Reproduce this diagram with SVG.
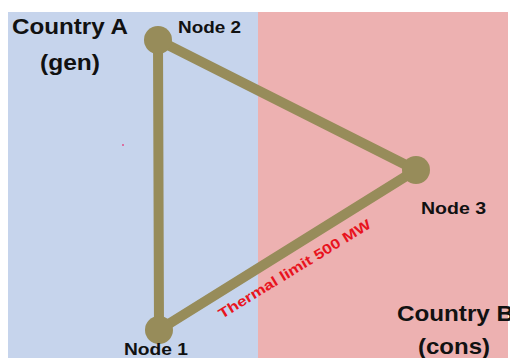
<svg xmlns="http://www.w3.org/2000/svg" width="510" height="358" viewBox="0 0 510 358">
<style>
.lbl{font-family:"Liberation Sans",Arial,sans-serif;font-weight:bold;fill:#111}
.big{font-size:22px}
.node{font-size:16px}
.edge{stroke:#978c5a;stroke-width:10;stroke-linecap:round;fill:none}
.dot{fill:#978c5a}
.lim{font-family:"Liberation Sans",Arial,sans-serif;font-weight:bold;font-size:14px;fill:#e8141e}
</style>
<rect x="0" y="0" width="510" height="358" fill="#ffffff"/>
<g id="regionA"><rect x="8" y="12" width="250" height="346" fill="#c6d4ec"/></g>
<g id="regionB"><rect x="258" y="12" width="250" height="346" fill="#edb1b1"/></g>
<circle cx="123" cy="145" r="1" fill="#e0508a"/>
<g id="connectors">
<line class="edge" x1="158" y1="40" x2="159" y2="330"/>
<line class="edge" x1="158" y1="40" x2="416" y2="170"/>
<line class="edge" x1="159" y1="330" x2="416" y2="170"/>
<text class="lim" transform="translate(222,319) rotate(-31.5)" textLength="176" lengthAdjust="spacingAndGlyphs">Thermal limit 500 MW</text>
</g>
<g id="countryA"><text class="lbl big" x="12" y="34" textLength="116" lengthAdjust="spacingAndGlyphs">Country A</text><text class="lbl big" x="40" y="70" textLength="60" lengthAdjust="spacingAndGlyphs">(gen)</text></g>
<g id="countryB"><text class="lbl big" x="397" y="321" textLength="117" lengthAdjust="spacingAndGlyphs">Country B</text><text class="lbl big" x="418" y="354" textLength="72" lengthAdjust="spacingAndGlyphs">(cons)</text></g>
<g id="node2"><circle class="dot" cx="158" cy="40" r="14"/><text class="lbl node" x="178" y="33" textLength="63" lengthAdjust="spacingAndGlyphs">Node 2</text></g>
<g id="node3"><circle class="dot" cx="416" cy="170" r="14"/><text class="lbl node" x="421" y="214" textLength="65" lengthAdjust="spacingAndGlyphs">Node 3</text></g>
<g id="node1"><circle class="dot" cx="159" cy="330" r="14"/><text class="lbl node" x="124" y="355" textLength="64" lengthAdjust="spacingAndGlyphs">Node 1</text></g>
</svg>
